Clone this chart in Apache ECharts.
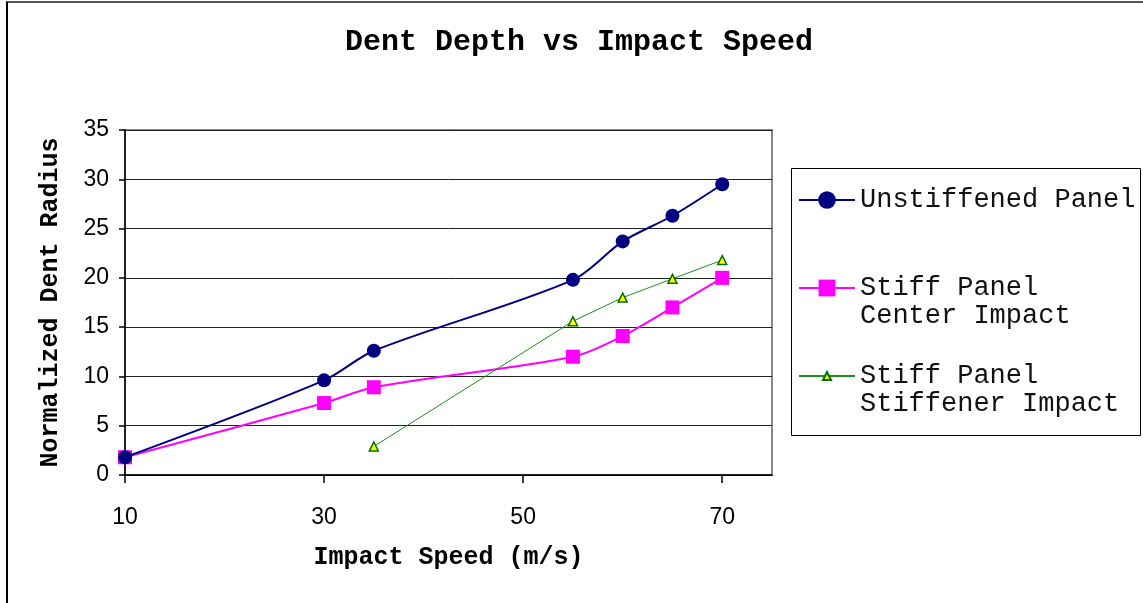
<!DOCTYPE html>
<html>
<head>
<meta charset="utf-8">
<script src="https://cdn.jsdelivr.net/npm/echarts@6/dist/echarts.min.js"></script>
<style>
  html, body { margin: 0; padding: 0; background: #fff; }
  #chart { width: 1143px; height: 603px; }
</style>
</head>
<body>
<div id="chart"></div>
<script>
// Impact speed (m/s) for each test series
const unstiffenedSpeed = [10, 30, 35, 55, 60, 65, 70];
const centerSpeed      = [10, 30, 35, 55, 60, 65, 70];
const stiffenerSpeed   = [35, 55, 60, 65, 70];

// Normalized dent radius measured at each speed
const unstiffenedDent = [1.8, 9.6, 12.6, 19.8, 23.7, 26.3, 29.5];
const centerDent      = [1.8, 7.3, 8.9, 12.0, 14.1, 17.0, 20.0];
const stiffenerDent   = [2.9, 15.6, 18.0, 19.9, 21.8];

const seriesNames = ['Unstiffened Panel', 'Stiff Panel\nCenter Impact', 'Stiff Panel\nStiffener Impact'];
const xTickValues = [10, 30, 50, 70];

const pairs = (xs, ys) => xs.map((x, i) => [x, ys[i]]);

const mono = '"Liberation Mono", "Courier New", monospace';
const sans = '"Liberation Sans", Arial, sans-serif';

const legendText = { fontFamily: mono, fontSize: 27, color: '#111', lineHeight: 28 };

// two-line entries: a blank leading line keeps the first text line level with the icon
const twoLineLabel = (name) => '\n' + name;

const chart = echarts.init(document.getElementById('chart'), null, { renderer: 'canvas' });

chart.setOption({
  animation: false,
  backgroundColor: '#fff',
  title: {
    text: 'Dent Depth vs Impact Speed',
    left: 340, top: 22,
    textStyle: { fontFamily: mono, fontSize: 30, fontWeight: 'bold', color: '#000' }
  },
  grid: {
    left: 125, right: 371, top: 130, bottom: 128,
    show: true, borderColor: '#888', borderWidth: 2, backgroundColor: '#fff'
  },
  xAxis: {
    type: 'value', min: 10, max: 75, interval: 20,
    name: 'Impact Speed (m/s)', nameLocation: 'middle', nameGap: 70,
    nameTextStyle: { fontFamily: mono, fontSize: 25, fontWeight: 'bold', color: '#000' },
    axisLine: { show: true, lineStyle: { color: '#000', width: 1.5 } },
    axisTick: { show: true, length: 8, customValues: xTickValues, lineStyle: { color: '#000', width: 1.5 } },
    axisLabel: { customValues: xTickValues, margin: 31, fontFamily: sans, fontSize: 23, color: '#000' },
    splitLine: { show: false }
  },
  yAxis: {
    type: 'value', min: 0, max: 35, interval: 5,
    name: 'Normalized Dent Radius', nameLocation: 'middle', nameGap: 62,
    nameTextStyle: { fontFamily: mono, fontSize: 25, fontWeight: 'bold', color: '#000' },
    axisLine: { show: true, lineStyle: { color: '#000', width: 1.5 } },
    axisTick: { show: true, length: 6, lineStyle: { color: '#000', width: 1.5 } },
    axisLabel: { margin: 16, fontFamily: sans, fontSize: 23, color: '#000' },
    splitLine: { show: true, lineStyle: { color: '#222', width: 1 } }
  },
  legend: [
    {
      data: [seriesNames[0]], orient: 'vertical', left: 798, top: 186, padding: 0,
      itemWidth: 56, itemHeight: 22, itemGap: 0, itemTextGap: 5,
      textStyle: legendText
    },
    {
      data: [seriesNames[1]], orient: 'vertical', left: 798, top: 246, padding: 0,
      itemWidth: 56, itemHeight: 21, itemGap: 0, itemTextGap: 5,
      formatter: twoLineLabel, textStyle: legendText
    },
    {
      data: [seriesNames[2]], orient: 'vertical', left: 798, top: 334, padding: 0,
      itemWidth: 56, itemHeight: 10, itemGap: 0, itemTextGap: 5,
      formatter: twoLineLabel, textStyle: legendText
    }
  ],
  graphic: [
    // chart frame
    { type: 'line', shape: { x1: 6, y1: 2, x2: 1143, y2: 2 }, style: { stroke: '#555', lineWidth: 2 }, silent: true },
    { type: 'line', shape: { x1: 7, y1: 2, x2: 7, y2: 603 }, style: { stroke: '#000', lineWidth: 2 }, silent: true },
    // legend box
    { type: 'rect', shape: { x: 791.5, y: 168.5, width: 349, height: 267 }, style: { fill: 'none', stroke: '#000', lineWidth: 1 }, silent: true, z: -1 }
  ],
  series: [
    {
      name: seriesNames[0], type: 'line', data: pairs(unstiffenedSpeed, unstiffenedDent),
      smooth: 0.3, symbol: 'circle', symbolSize: 14,
      lineStyle: { color: '#000080', width: 2 },
      itemStyle: { color: '#000080' }, z: 3
    },
    {
      name: seriesNames[1], type: 'line', data: pairs(centerSpeed, centerDent),
      smooth: 0.3, symbol: 'rect', symbolSize: 14,
      lineStyle: { color: '#FF00FF', width: 2 },
      itemStyle: { color: '#FF00FF' }, z: 2
    },
    {
      name: seriesNames[2], type: 'line', data: pairs(stiffenerSpeed, stiffenerDent),
      smooth: false, symbol: 'triangle', symbolSize: 9,
      lineStyle: { color: '#1E8C1E', width: 1 },
      itemStyle: { color: '#FFFF00', borderColor: '#007000', borderWidth: 1.5 }, z: 4
    }
  ]
});
</script>
</body>
</html>
